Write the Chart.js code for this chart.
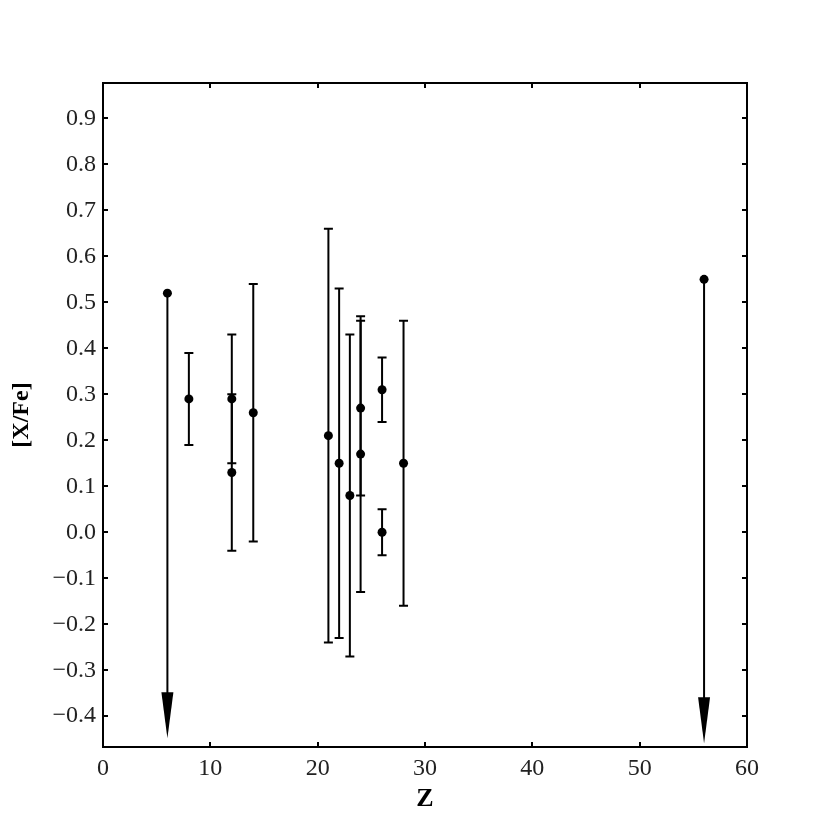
<!DOCTYPE html>
<html>
<head>
<meta charset="utf-8">
<script src="https://cdn.jsdelivr.net/npm/chart.js@4.4.1/dist/chart.umd.min.js"></script>
<style>
  html, body { margin: 0; padding: 0; background: #ffffff; }
  #wrap { width: 830px; height: 830px; }
</style>
</head>
<body>
<div id="wrap"><canvas id="c" width="830" height="830"></canvas></div>
<script>
// ---- data ----
const zValues     = [6, 8, 12, 12, 14, 21, 22, 23, 24, 24, 26, 26, 28, 56];
const xfeValues   = [0.52, 0.29, 0.29, 0.13, 0.26, 0.21, 0.15, 0.08, 0.27, 0.17, 0.31, 0.00, 0.15, 0.55];
const xfeErrors   = [null, 0.10, 0.14, 0.17, 0.28, 0.45, 0.38, 0.35, 0.19, 0.30, 0.07, 0.05, 0.31, null];
const upperLimits = [true, false, false, false, false, false, false, false, false, false, false, false, false, true];
const arrowTips   = [-0.448, null, null, null, null, null, null, null, null, null, null, null, null, -0.459];
const xTickValues = [0, 10, 20, 30, 40, 50, 60];
const yTickValues = [-0.4, -0.3, -0.2, -0.1, 0.0, 0.1, 0.2, 0.3, 0.4, 0.5, 0.6, 0.7, 0.8, 0.9];
const xTitle = 'Z';
const yTitle = '[X/Fe]';

const points = zValues.map((z, i) => ({ x: z, y: xfeValues[i] }));

const FONT = "'Liberation Serif', 'DejaVu Serif', serif";

function fmtY(v) {
  const s = Math.abs(v) < 1e-9 ? '0.0' : Math.abs(v).toFixed(1);
  return v < -1e-9 ? '\u2212' + s : s;
}

const errorBarPlugin = {
  id: 'errorBars',
  beforeDatasetsDraw(chart) {
    const ctx = chart.ctx;
    const xs = chart.scales.x, ys = chart.scales.y;
    ctx.save();
    ctx.strokeStyle = '#000';
    ctx.lineWidth = 2;
    zValues.forEach((z, i) => {
      const px = xs.getPixelForValue(z);
      if (xfeErrors[i] != null) {
        const yTop = ys.getPixelForValue(xfeValues[i] + xfeErrors[i]);
        const yBot = ys.getPixelForValue(xfeValues[i] - xfeErrors[i]);
        ctx.beginPath();
        ctx.moveTo(px, yTop); ctx.lineTo(px, yBot);
        ctx.moveTo(px - 4.5, yTop); ctx.lineTo(px + 4.5, yTop);
        ctx.moveTo(px - 4.5, yBot); ctx.lineTo(px + 4.5, yBot);
        ctx.stroke();
      }
      if (upperLimits[i] && arrowTips[i] != null) {
        const y0 = ys.getPixelForValue(xfeValues[i]);
        const yTip = ys.getPixelForValue(arrowTips[i]);
        const yHead = ys.getPixelForValue(arrowTips[i] + 0.1);
        ctx.beginPath();
        ctx.moveTo(px, y0); ctx.lineTo(px, yHead + 1);
        ctx.stroke();
        ctx.beginPath();
        ctx.fillStyle = '#000';
        ctx.moveTo(px - 6, yHead);
        ctx.lineTo(px + 6, yHead);
        ctx.lineTo(px, yTip);
        ctx.closePath();
        ctx.fill();
      }
    });
    ctx.restore();
  }
};

const framePlugin = {
  id: 'frame',
  afterDraw(chart) {
    const ctx = chart.ctx;
    const a = chart.chartArea;
    const xs = chart.scales.x, ys = chart.scales.y;
    ctx.save();
    ctx.strokeStyle = '#000';
    ctx.lineWidth = 2;
    ctx.strokeRect(a.left, a.top, a.right - a.left, a.bottom - a.top);
    const tl = 5;
    ctx.beginPath();
    xTickValues.forEach(v => {
      const px = Math.round(xs.getPixelForValue(v));
      if (px <= a.left + 1 || px >= a.right - 1) return;
      ctx.moveTo(px, a.bottom); ctx.lineTo(px, a.bottom - tl);
      ctx.moveTo(px, a.top); ctx.lineTo(px, a.top + tl);
    });
    yTickValues.forEach(v => {
      const py = Math.round(ys.getPixelForValue(v));
      if (py <= a.top + 1 || py >= a.bottom - 1) return;
      ctx.moveTo(a.left, py); ctx.lineTo(a.left + tl, py);
      ctx.moveTo(a.right, py); ctx.lineTo(a.right - tl, py);
    });
    ctx.stroke();
    ctx.restore();
  }
};

new Chart(document.getElementById('c'), {
  type: 'scatter',
  data: {
    datasets: [{
      data: points,
      backgroundColor: '#000',
      borderColor: '#000',
      pointRadius: 4.5,
      pointHoverRadius: 4.5,
      borderWidth: 0
    }]
  },
  options: {
    responsive: false,
    animation: false,
    devicePixelRatio: 1,
    layout: { padding: { left: 0, top: 83, right: 83, bottom: 0 } },
    plugins: { legend: { display: false }, tooltip: { enabled: false } },
    scales: {
      x: {
        type: 'linear',
        min: 0, max: 60,
        afterFit(scale) { scale.height = 83; },
        afterBuildTicks(scale) { scale.ticks = xTickValues.map(v => ({ value: v })); },
        grid: { display: false, drawTicks: false },
        border: { display: false },
        ticks: {
          padding: 7,
          color: '#222',
          font: { family: FONT, size: 24 },
          callback: v => String(v)
        },
        title: {
          display: true, text: xTitle, color: '#000',
          font: { family: FONT, size: 26, weight: 'bold' },
          padding: { top: 0, bottom: 15 }
        }
      },
      y: {
        type: 'linear',
        min: -0.467, max: 0.977,
        afterFit(scale) { scale.width = 103; },
        afterBuildTicks(scale) { scale.ticks = yTickValues.map(v => ({ value: v })); },
        grid: { display: false, drawTicks: false },
        border: { display: false },
        ticks: {
          padding: 7,
          color: '#222',
          font: { family: FONT, size: 24 },
          callback: v => fmtY(v)
        },
        title: {
          display: true, text: yTitle, color: '#000',
          font: { family: FONT, size: 24, weight: 'bold' },
          padding: { top: 7, bottom: 0 }
        }
      }
    }
  },
  plugins: [errorBarPlugin, framePlugin]
});
</script>
</body>
</html>
